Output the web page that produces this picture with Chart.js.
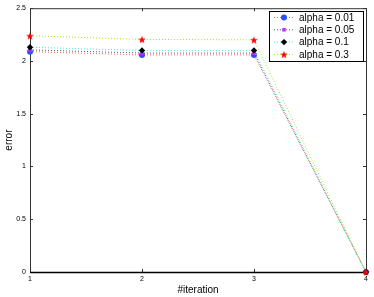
<!DOCTYPE html>
<html>
<head>
<meta charset="utf-8">
<script src="https://cdn.jsdelivr.net/npm/chart.js@4/dist/chart.umd.min.js"></script>
<style>
  html, body { margin: 0; padding: 0; background: #fff; }
  #wrap { width: 374px; height: 297px; }
</style>
</head>
<body>
<div id="wrap"><canvas id="errChart" width="374" height="297"></canvas></div>
<script>
// values
const iterations = [1, 2, 3, 4];
const seriesLabels = ['alpha = 0.01', 'alpha = 0.05', 'alpha = 0.1', 'alpha = 0.3'];
const err001 = [2.088, 2.057, 2.057, 0];
const err005 = [2.105, 2.075, 2.075, 0];
const err01 = [2.13, 2.10, 2.10, 0];
const err03 = [2.239, 2.204, 2.20, 0];
const xTicks = [1, 2, 3, 4];
const yTicks = [0, 0.5, 1, 1.5, 2, 2.5];

// filled five point star, chart.js 'star' is only outlined
function makeStar(size, color) {
  const c = document.createElement('canvas');
  c.width = size; c.height = size;
  const g = c.getContext('2d');
  const cx = size / 2, cy = size / 2 + 0.5, ro = size / 2, ri = ro * 0.42;
  g.beginPath();
  for (let i = 0; i < 10; i++) {
    const r = i % 2 ? ri : ro;
    const a = -Math.PI / 2 + i * Math.PI / 5;
    g.lineTo(cx + r * Math.cos(a), cy + r * Math.sin(a));
  }
  g.closePath();
  g.fillStyle = color;
  g.fill();
  return c;
}
const starImg = makeStar(8, '#ff0000');

function pts(vals) {
  return iterations.map((x, i) => ({ x: x, y: vals[i] }));
}

const lineColors = ['#ff6666', '#555555', '#44eeee', '#99ee22'];
const markColors = ['#2f4fff', '#c030ff', '#000000', '#ff0000'];
const markStyles = ['circle', 'rect', 'rectRot', starImg];
const markRadius = [3, 2.5, 3.2, 4];
const allSeries = [err001, err005, err01, err03];

const datasets = allSeries.map((vals, i) => ({
  label: seriesLabels[i],
  data: pts(vals),
  borderColor: lineColors[i],
  borderWidth: 1,
  borderDash: [1, 2],
  pointStyle: markStyles[i],
  pointRadius: markRadius[i],
  pointBackgroundColor: markColors[i],
  pointBorderColor: markColors[i],
  pointBorderWidth: 0,
  order: 4 - i,
  clip: false
}));

// box + inward ticks like the matlab axes
const frame = {
  id: 'frame',
  beforeDatasetsDraw(chart) {
    const ctx = chart.ctx, a = chart.chartArea;
    const xs = chart.scales.x, ys = chart.scales.y;
    ctx.save();
    ctx.strokeStyle = '#333';
    ctx.lineWidth = 1;
    ctx.strokeRect(a.left + 0.5, a.top + 0.5, a.right - a.left, a.bottom - a.top);
    ctx.beginPath();
    xTicks.forEach(v => {
      const px = Math.round(xs.getPixelForValue(v)) + 0.5;
      ctx.moveTo(px, a.bottom); ctx.lineTo(px, a.bottom - 3);
      ctx.moveTo(px, a.top); ctx.lineTo(px, a.top + 3);
    });
    yTicks.forEach(v => {
      const py = Math.round(ys.getPixelForValue(v)) + 0.5;
      ctx.moveTo(a.left, py); ctx.lineTo(a.left + 3, py);
      ctx.moveTo(a.right, py); ctx.lineTo(a.right - 3, py);
    });
    ctx.stroke();
    ctx.strokeStyle = '#000';
    ctx.lineWidth = 1.5;
    ctx.beginPath();
    ctx.moveTo(a.left, a.bottom + 0.5); ctx.lineTo(a.right, a.bottom + 0.5);
    ctx.stroke();
    ctx.restore();
  }
};

// legend box in the upper right corner
const boxLegend = {
  id: 'boxLegend',
  afterDatasetsDraw(chart) {
    const ctx = chart.ctx;
    const left = 269, top = 11, w = 94, h = 50, rowH = 12.3;
    ctx.save();
    ctx.fillStyle = '#fff';
    ctx.fillRect(left, top, w, h);
    ctx.strokeStyle = '#000';
    ctx.lineWidth = 1;
    ctx.strokeRect(left + 0.5, top + 0.5, w, h);
    ctx.font = '10px "Liberation Sans", Arial, sans-serif';
    ctx.textBaseline = 'middle';
    chart.data.datasets.forEach((ds, i) => {
      const y = top + 6.5 + i * rowH;
      ctx.strokeStyle = ds.borderColor;
      ctx.setLineDash([1, 2]);
      ctx.beginPath();
      ctx.moveTo(left + 5, y); ctx.lineTo(left + 25, y);
      ctx.stroke();
      ctx.setLineDash([]);
      ctx.fillStyle = ds.pointBackgroundColor;
      ctx.strokeStyle = ds.pointBorderColor;
      Chart.helpers.drawPoint(ctx, { pointStyle: ds.pointStyle, radius: ds.pointRadius, borderWidth: 0, rotation: 0 }, left + 15, y);
      ctx.fillStyle = '#000';
      ctx.fillText(ds.label, left + 30, y + 0.5);
    });
    ctx.restore();
  }
};

const tickFont = { size: 7, family: '"Liberation Sans", Arial, sans-serif' };
const titleFont = { size: 10, family: '"Liberation Sans", Arial, sans-serif' };

const ctxErr = document.getElementById('errChart').getContext('2d');
const chartErr = new Chart(ctxErr, {
  type: 'line',
  data: { datasets: datasets },
  options: {
    responsive: false,
    animation: false,
    layout: { padding: { top: 7, right: 8, left: 0, bottom: 0 } },
    plugins: {
      legend: { display: false },
      tooltip: { enabled: false }
    },
    scales: {
      x: {
        type: 'linear',
        min: 1,
        max: 4,
        afterBuildTicks(scale) { scale.ticks = xTicks.map(v => ({ value: v })); },
        afterFit(scale) { scale.height = 25; },
        grid: { display: false, drawTicks: false },
        border: { display: false },
        ticks: { color: '#000', padding: 3, maxRotation: 0, font: tickFont, callback: v => String(v) },
        title: { display: true, text: '#iteration', color: '#000', padding: { top: 0, bottom: 1 }, font: titleFont }
      },
      y: {
        min: 0,
        max: 2.5,
        afterBuildTicks(scale) { scale.ticks = yTicks.map(v => ({ value: v })); },
        afterFit(scale) { scale.width = 30; },
        grid: { display: false, drawTicks: false },
        border: { display: false },
        ticks: { color: '#000', padding: 4, font: tickFont, callback: v => String(v) },
        title: { display: true, text: 'error', color: '#000', padding: { top: 3, bottom: 0 }, font: titleFont }
      }
    }
  },
  plugins: [frame, boxLegend]
});
</script>
</body>
</html>
